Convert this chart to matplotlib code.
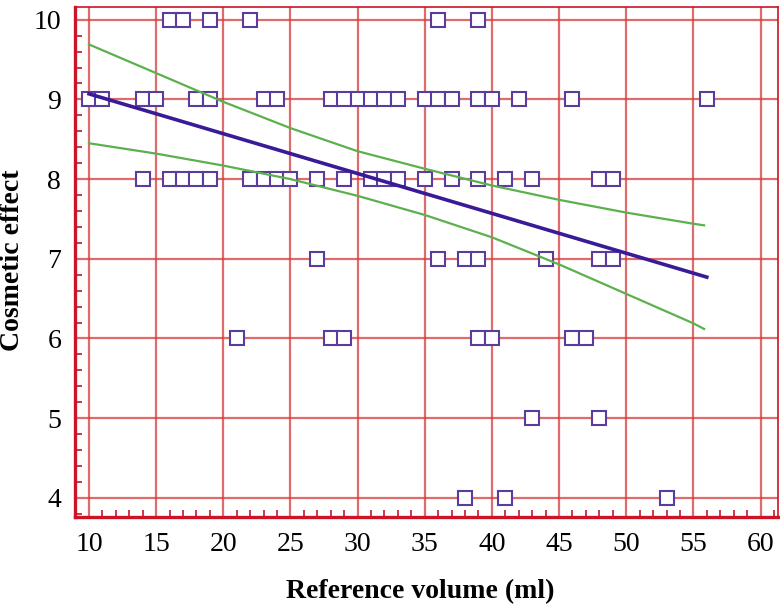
import numpy as np
import matplotlib.pyplot as plt
from matplotlib.ticker import MultipleLocator

# scatter points, grouped by cosmetic effect score
score_10 = [16, 17, 19, 22, 36, 39]
score_9 = [10, 11, 14, 15, 18, 19, 23, 24, 28, 29, 30, 31, 32, 33, 35, 36, 37, 39, 40, 42, 46, 56]
score_8 = [14, 16, 17, 18, 19, 22, 23, 24, 25, 27, 29, 31, 32, 33, 35, 37, 39, 41, 43, 48, 49]
score_7 = [27, 36, 38, 39, 44, 48, 49]
score_6 = [21, 28, 29, 39, 40, 46, 47]
score_5 = [43, 48]
score_4 = [38, 41, 53]

# regression line and confidence band
fit_x = [10, 56]
fit_y = [9.07, 6.77]
band_x = [10, 15, 20, 25, 30, 35, 40, 45, 50, 55, 55.8]
band_upper = [9.69, 9.33, 8.97, 8.64, 8.35, 8.13, 7.92, 7.74, 7.58, 7.44, 7.42]
band_lower = [8.45, 8.32, 8.17, 8.00, 7.79, 7.55, 7.27, 6.93, 6.56, 6.19, 6.12]

groups = [(10, score_10), (9, score_9), (8, score_8), (7, score_7),
          (6, score_6), (5, score_5), (4, score_4)]
xs = []
ys = []
for score, vols in groups:
    xs += vols
    ys += [score] * len(vols)

red = '#cc1426'
grid_red = '#d63a3a'
serif = 'Liberation Serif'

fig = plt.figure(figsize=(7.8, 6.08), dpi=100)
ax = fig.add_axes([0.0962, 0.1497, 0.9012, 0.8388])

ax.plot(xs, ys, linestyle='none', marker='s', markersize=9.5,
        markerfacecolor='white', markeredgecolor='#5a3c9e',
        markeredgewidth=1.5, zorder=3)
ax.plot(band_x, band_upper, color='#5cb04e', lw=1.6, zorder=4)
ax.plot(band_x, band_lower, color='#5cb04e', lw=1.6, zorder=4)
ax.plot(fit_x, fit_y, color='#3a1a96', lw=2.6, zorder=5)

ax.set_xlim(8.96, 61.3)
ax.set_ylim(3.76, 10.16)
ax.set_xticks(np.arange(10, 61, 5))
ax.set_yticks(np.arange(4, 11, 1))
ax.xaxis.set_minor_locator(MultipleLocator(1))
ax.yaxis.set_minor_locator(MultipleLocator(0.2))
ax.grid(True, which='major', color=grid_red, alpha=0.75, lw=1.6, zorder=0)
ax.set_axisbelow(True)

ax.tick_params(which='major', length=0, labelsize=20)
ax.tick_params(axis='x', which='major', pad=11)
ax.tick_params(axis='y', which='major', pad=10)
ax.tick_params(which='minor', direction='in', length=5, width=1.2, color=red)
for lab in ax.get_xticklabels() + ax.get_yticklabels():
    lab.set_family(serif)

for side in ['left', 'bottom']:
    ax.spines[side].set_color(red)
    ax.spines[side].set_linewidth(2.4)
for side in ['top', 'right']:
    ax.spines[side].set_color(red)
    ax.spines[side].set_linewidth(1.2)

fig.text(420 / 780, 1 - 592 / 608, 'Reference volume (ml)', family=serif,
         fontsize=20, fontweight='bold', ha='center', va='center')
fig.text(13 / 780, 1 - 260 / 608, 'Cosmetic effect', family=serif,
         fontsize=20, fontweight='bold', ha='center', va='center', rotation=90)

fig.savefig('out.png', dpi=100)
